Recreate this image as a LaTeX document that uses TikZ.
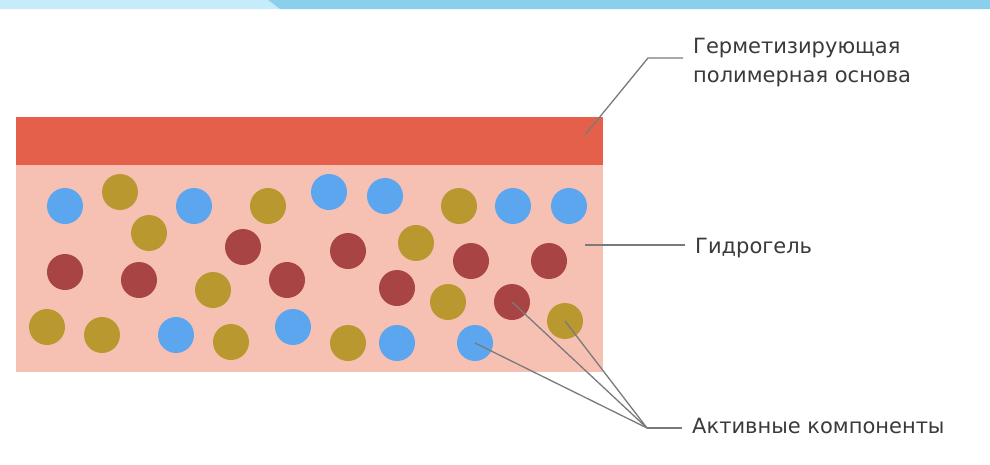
\documentclass[tikz,border=0pt]{standalone}
\usepackage{fontspec}
\newfontfamily\lblfont{DejaVu Sans}
\definecolor{bandlight}{HTML}{C6ECFB}
\definecolor{banddark}{HTML}{8AD0EC}
\definecolor{baselayer}{HTML}{E4604A}
\definecolor{gellayer}{HTML}{F6C1B3}
\definecolor{cblue}{HTML}{5CA6F0}
\definecolor{cgold}{HTML}{B9982F}
\definecolor{cred}{HTML}{A94444}
\definecolor{leader}{HTML}{7A7A7A}
\definecolor{txt}{HTML}{3A3A3A}
\tikzset{
  particle/.style={circle,inner sep=0pt,minimum size=36pt},
  pblue/.style={particle,fill=cblue},
  pgold/.style={particle,fill=cgold},
  pred/.style={particle,fill=cred},
  leaderline/.style={draw=leader,line width=1.3pt},
  label/.style={text=txt,inner sep=0pt,font={\lblfont\fontsize{21}{29}\selectfont}}
}
\begin{document}
\begin{tikzpicture}[x=1pt,y=-1pt]
\useasboundingbox (0,0) rectangle (990,464);
\fill[white] (0,0) rectangle (990,464);
% top band
\fill[bandlight] (0,0) -- (268,0) -- (280,9) -- (0,9) -- cycle;
\fill[banddark] (268,0) -- (990,0) -- (990,9) -- (280,9) -- cycle;
% layers
\fill[baselayer] (16,117) rectangle (603,165);
\fill[gellayer] (16,165) rectangle (603,372);
% particles: blue
\node[pblue] (b1) at (65,206) {};
\node[pblue] (b2) at (194,206) {};
\node[pblue] (b3) at (329,192) {};
\node[pblue] (b4) at (385,196) {};
\node[pblue] (b5) at (513,206) {};
\node[pblue] (b6) at (569,206) {};
\node[pblue] (b7) at (176,335) {};
\node[pblue] (b8) at (293,327) {};
\node[pblue] (b9) at (397,343) {};
\node[pblue] (b10) at (475,343) {};
% gold
\node[pgold] (g1) at (120,192) {};
\node[pgold] (g2) at (268,206) {};
\node[pgold] (g3) at (149,233) {};
\node[pgold] (g4) at (459,206) {};
\node[pgold] (g5) at (416,243) {};
\node[pgold] (g6) at (213,290) {};
\node[pgold] (g7) at (448,302) {};
\node[pgold] (g8) at (565,321) {};
\node[pgold] (g9) at (47,327) {};
\node[pgold] (g10) at (102,335) {};
\node[pgold] (g11) at (231,342) {};
\node[pgold] (g12) at (348,343) {};
% red
\node[pred] (r1) at (65,272) {};
\node[pred] (r2) at (139,280) {};
\node[pred] (r3) at (243,247) {};
\node[pred] (r4) at (287,280) {};
\node[pred] (r5) at (348,251) {};
\node[pred] (r6) at (471,261) {};
\node[pred] (r7) at (549,261) {};
\node[pred] (r8) at (397,288) {};
\node[pred] (r9) at (512,302) {};
% labels
\node[label,anchor=north west,align=left] (ltop) at (693,38) {Герметизирующая\\полимерная основа};
\node[label,anchor=base west] (lgel) at (695,253) {Гидрогель};
\node[label,anchor=base west] (lact) at (692,433) {Активные компоненты};
% leader coordinates
\coordinate (t0) at (585,135);
\coordinate (t1) at (648,58);
\coordinate (t2) at (683,58);
\coordinate (h0) at (585,245);
\coordinate (h1) at (685,245);
\coordinate (a0) at (647,428);
\coordinate (a1) at (682,428);
% leaders
\draw[leaderline] (t0) -- (t1) -- (t2);
\draw[leaderline] (h0) -- (h1);
\draw[leaderline] (b10.center) -- (a0);
\draw[leaderline] (r9.center) -- (a0);
\draw[leaderline] (g8.center) -- (a0);
\draw[leaderline] (a0) -- (a1);
\end{tikzpicture}
\end{document}
